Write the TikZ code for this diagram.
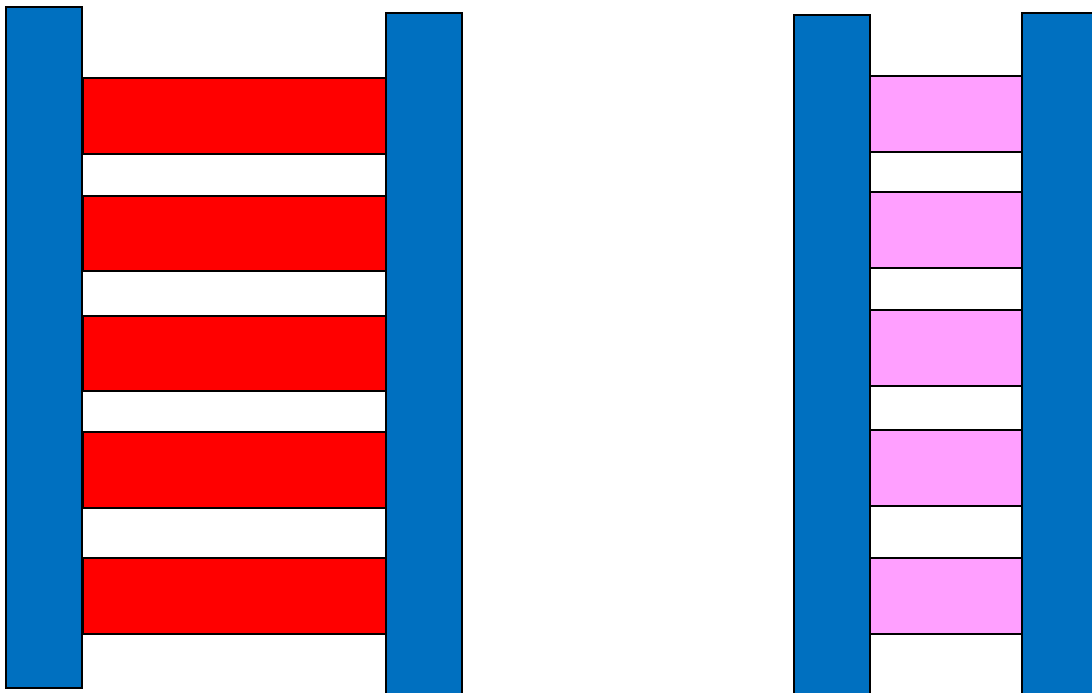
\documentclass[tikz,border=0pt]{standalone}
\usepackage{xcolor}
\definecolor{railBlue}{RGB}{0,112,192}
\definecolor{rungRed}{RGB}{255,0,0}
\definecolor{rungPink}{RGB}{255,159,255}

\begin{document}
\begin{tikzpicture}[
    x=1pt, y=-1pt,
    rail/.style={draw=black, line width=1.2pt, fill=railBlue},
    redrung/.style={draw=black, line width=1.2pt, fill=rungRed},
    pinkrung/.style={draw=black, line width=1.2pt, fill=rungPink}
]
    \useasboundingbox (0,0) rectangle (1092,693);
    \clip (0,0) rectangle (1092,693);

    % left ladder
    \foreach \top/\bot in {78/154, 196/271, 316/391, 432/508, 558/634}
        \draw[redrung] (83,\top) rectangle (386,\bot);
    \draw[rail] (6,7) rectangle (82,688);
    \draw[rail] (386,13) rectangle (462,700);

    % right ladder
    \foreach \top/\bot in {76/152, 192/268, 310/386, 430/506, 558/634}
        \draw[pinkrung] (870,\top) rectangle (1022,\bot);
    \draw[rail] (794,15) rectangle (870,700);
    \draw[rail] (1022,13) rectangle (1100,700);
\end{tikzpicture}
\end{document}
